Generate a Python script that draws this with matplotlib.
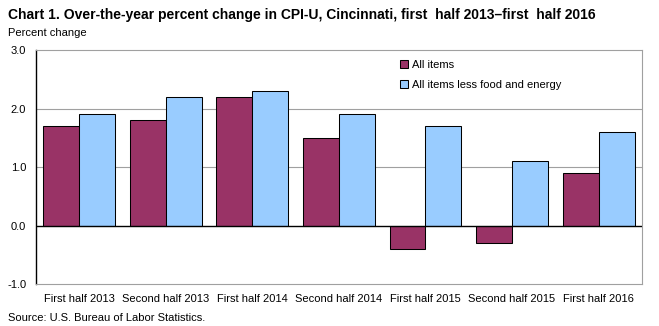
import matplotlib.pyplot as plt
import numpy as np

plt.rcParams['font.family'] = ['Liberation Sans', 'DejaVu Sans']

periods = ['First half 2013', 'Second half 2013', 'First half 2014', 'Second half 2014',
           'First half 2015', 'Second half 2015', 'First half 2016']
all_items = [1.7, 1.8, 2.2, 1.5, -0.4, -0.3, 0.9]
core_items = [1.9, 2.2, 2.3, 1.9, 1.7, 1.1, 1.6]

fig = plt.figure(figsize=(6.59, 3.26), dpi=100)
ax = fig.add_axes([0.0546, 0.1288, 0.9194, 0.7178])

x = np.arange(len(periods))
w = 0.415
ax.bar(x - w / 2, all_items, w, color='#993366', edgecolor='black', linewidth=0.75,
       label='All items', zorder=3)
ax.bar(x + w / 2, core_items, w, color='#99CCFF', edgecolor='black', linewidth=0.75,
       label='All items less food and energy', zorder=3)

ax.set_xlim(-0.5, len(periods) - 0.5)
ax.set_ylim(-1.0, 3.0)
ax.set_yticks([-1.0, 0.0, 1.0, 2.0, 3.0])
ax.set_yticklabels(['-1.0', '0.0', '1.0', '2.0', '3.0'])
ax.set_xticks(x)
ax.set_xticklabels(periods)
ax.tick_params(axis='x', length=0, pad=7, labelsize=8)
ax.tick_params(axis='y', length=0, pad=7, labelsize=8)

for y in [1.0, 2.0]:
    ax.axhline(y, color='#a0a0a0', linewidth=0.8, zorder=1)
ax.axhline(0, color='black', linewidth=1.0, zorder=4)

for side in ['top', 'right', 'bottom']:
    ax.spines[side].set_color('#a0a0a0')
    ax.spines[side].set_linewidth(0.8)
ax.spines['left'].set_color('black')
ax.spines['left'].set_linewidth(1.0)

ax.legend(loc='upper left', bbox_to_anchor=(0.585, 1.0), frameon=False, fontsize=8,
          handlelength=0.7, handleheight=0.7, handletextpad=0.3, labelspacing=0.9)

fig.text(0.012, 0.955, 'Chart 1. Over-the-year percent change in CPI-U, Cincinnati, first  half 2013\u2013first  half 2016',
         fontsize=10, fontweight='bold', va='center')
fig.text(0.012, 0.898, 'Percent change', fontsize=8, va='center')
fig.text(0.012, 0.025, 'Source: U.S. Bureau of Labor Statistics.', fontsize=8, va='center')

fig.savefig('out.png', dpi=100)
